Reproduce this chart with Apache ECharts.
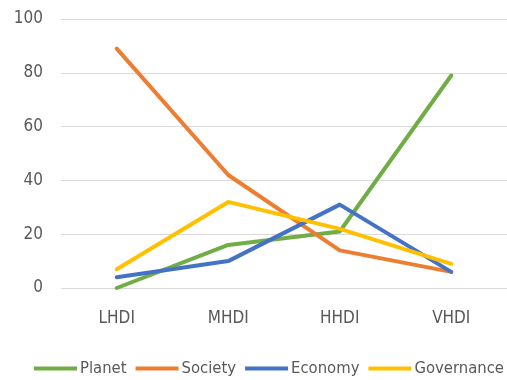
<!DOCTYPE html>
<html>
<head>
<meta charset="utf-8">
<script src="https://cdn.jsdelivr.net/npm/echarts@6/dist/echarts.min.js"></script>
<style>
  html, body { margin: 0; padding: 0; background: #fff; }
  #chart { width: 507px; height: 380px; }
</style>
</head>
<body>
<div id="chart"></div>
<script>
// HDI groups along the x axis
const categories = ['LHDI', 'MHDI', 'HHDI', 'VHDI'];

// Values per dimension
const planet = [0, 16, 21, 79];
const society = [89, 42, 14, 6];
const economy = [4, 10, 31, 6];
const governance = [7, 32, 22, 9];

const yTicks = { min: 0, max: 100, interval: 20 };

const seriesDefs = [
  { name: 'Planet', data: planet, color: '#70AD47' },
  { name: 'Society', data: society, color: '#ED7D31' },
  { name: 'Economy', data: economy, color: '#4472C4' },
  { name: 'Governance', data: governance, color: '#FFC000' }
];

const fontFamily = '"DejaVu Sans Condensed", Lato, sans-serif';
const chart = echarts.init(document.getElementById('chart'));

chart.setOption({
  animation: false,
  grid: { left: 61, top: 19, width: 448, height: 269 },
  xAxis: {
    type: 'category',
    data: categories,
    boundaryGap: true,
    axisLine: { show: false },
    axisTick: { show: false },
    axisLabel: { color: '#595959', fontSize: 17, fontFamily, margin: 22 }
  },
  yAxis: {
    type: 'value',
    min: yTicks.min,
    max: yTicks.max,
    interval: yTicks.interval,
    axisLine: { show: false },
    axisTick: { show: false },
    axisLabel: { color: '#595959', fontSize: 17, fontFamily, margin: 18 },
    splitLine: { lineStyle: { color: '#D9D9D9', width: 1 } }
  },
  legend: {
    top: 355,
    left: 29,
    width: 478,
    padding: [5, 0, 5, 5],
    itemWidth: 43,
    itemHeight: 4,
    itemGap: 9,
    icon: 'rect',
    textStyle: { color: '#595959', fontSize: 16.5, fontFamily, padding: [0, 0, 0, -2] },
    data: seriesDefs.map(s => s.name)
  },
  series: seriesDefs.map(s => ({
    name: s.name,
    type: 'line',
    data: s.data,
    symbol: 'none',
    color: s.color,
    lineStyle: { width: 4, color: s.color, cap: 'round', join: 'round' }
  }))
});
</script>
</body>
</html>
